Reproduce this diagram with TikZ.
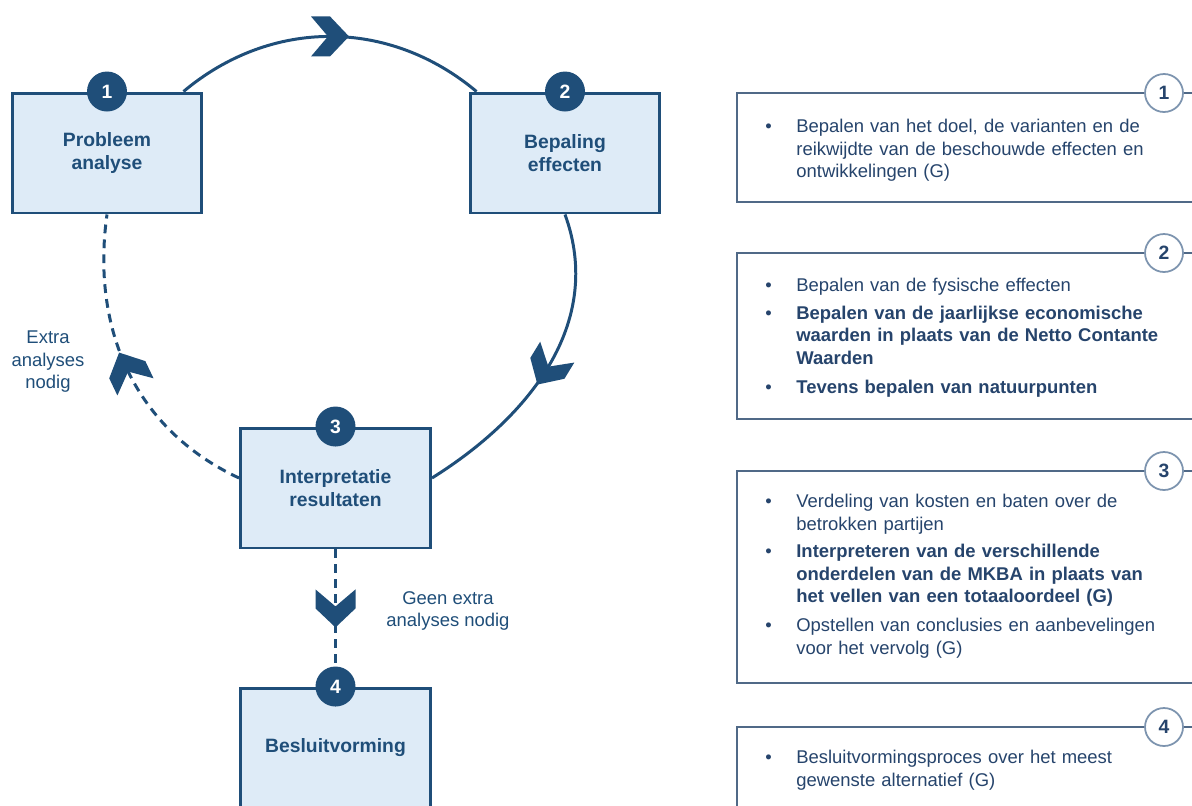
\documentclass[tikz,border=0pt]{standalone}
\usepackage{fontspec}
\setmainfont{Liberation Sans}
\usetikzlibrary{positioning}
\usetikzlibrary{decorations.markings}
\definecolor{darkblue}{RGB}{31,78,121}
\definecolor{lightblue}{RGB}{222,235,247}
\definecolor{paneltext}{RGB}{38,68,108}
\definecolor{panelline}{RGB}{80,105,135}
\definecolor{circline}{RGB}{125,148,175}
\newcommand{\PBul}{\makebox[0.62cm][l]{\textbullet}}
\newcommand{\PInd}{\hspace*{0.62cm}}
\tikzset{
    Box/.style = {rectangle, draw=darkblue, fill=lightblue, line width=1.7pt, minimum width=3.8cm, minimum height=2.4cm, align=center, text=darkblue, font=\bfseries\fontsize{11}{13}\selectfont}
}
\tikzset{
    Num/.style = {circle, fill=darkblue, text=white, minimum size=0.8cm, inner sep=0pt, font=\bfseries\fontsize{11}{13}\selectfont}
}
\tikzset{
    Flow/.style = {draw=darkblue, line width=1.7pt},
    DashFlow/.style = {Flow, dash pattern=on 5pt off 3.5pt},
    Chevron/.style = {postaction={decorate}, decoration={markings, mark=at position #1 with {\fill[darkblue] (19,0) -- (0,20) -- (-19,20) -- (-2,0) -- (-19,-20) -- (0,-20) -- cycle;}}}
}
\begin{document}
\begin{tikzpicture}[
    x=0.02cm, y=-0.02cm,
    font=\fontsize{10.5}{12.8}\selectfont
]
\tikzset{
    Panel/.style = {draw=panelline, line width=0.9pt},
    PNum/.style = {circle, draw=circline, fill=white, line width=1pt, minimum size=0.76cm, inner sep=0pt, text=paneltext, font=\bfseries\fontsize{11}{13}\selectfont},
    PText/.style = {anchor=north west, inner sep=0pt, text width=8.4cm, align=left, text=paneltext},
    Note/.style = {align=center, text=darkblue, inner sep=0pt}
}
\path[fill=white] (0,0) rectangle (1192,805);
\useasboundingbox (0,0) rectangle (1192,805);

% cycle
\node[Box] at (107,153) (b1) {Probleem\\analyse};
\node[Box] at (565,153) (b2) {Bepaling\\effecten};
\node[Box] at (335.5,488) (b3) {Interpretatie\\resultaten};
\node[Box] at (335.5,748) (b4) {Besluitvorming};
\path ([xshift=-0.4cm]b1.north east) edge [Flow, Chevron=0.5, out=40, in=140] ([xshift=0.16cm]b2.north west);
\path (b2.south) edge [Flow, Chevron=0.5, out=-70, in=32] ([yshift=0.2cm]b3.east);
\path ([yshift=0.2cm]b3.west) edge [DashFlow, Chevron=0.5, out=155, in=-98] (b1.south);
\path (b3.south) edge [DashFlow, Chevron=0.43] (b4.north);
\node[Num] at (b1.north) (n1) {1};
\node[Num] at (b2.north) (n2) {2};
\node[Num] at (b3.north) (n3) {3};
\node[Num] at (b4.north) (n4) {4};
\node[Note] at (48,362) (extra) {Extra\\analyses\\nodig};
\node[Note] at (448,611) (geen) {Geen extra\\analyses nodig};

% panels
\draw[Panel] (737,93) rectangle (1215,202);
\draw[Panel] (737,253) rectangle (1215,419);
\draw[Panel] (737,471) rectangle (1215,683);
\draw[Panel] (737,727) rectangle (1215,830);
\node[PNum] at (1164,93) (p1) {1};
\node[PNum] at (1164,253) (p2) {2};
\node[PNum] at (1164,471) (p3) {3};
\node[PNum] at (1164,727) (p4) {4};
\node[PText] at (765,119) (t1) {\PBul Bepalen van het doel, de varianten en de\\
    \PInd reikwijdte van de beschouwde effecten en\\
    \PInd ontwikkelingen (G)};
\node[PText] at (765,278) (t2) {\PBul Bepalen van de fysische effecten\\[3pt]
    \PBul\textbf{Bepalen van de jaarlijkse economische}\\
    \PInd\textbf{waarden in plaats van de Netto Contante}\\
    \PInd\textbf{Waarden}\\[3.5pt]
    \PBul\textbf{Tevens bepalen van natuurpunten}};
\node[PText] at (765,494) (t3) {\PBul Verdeling van kosten en baten over de\\
    \PInd betrokken partijen\\[3pt]
    \PBul\textbf{Interpreteren van de verschillende}\\
    \PInd\textbf{onderdelen van de MKBA in plaats van}\\
    \PInd\textbf{het vellen van een totaaloordeel (G)}\\[3.5pt]
    \PBul Opstellen van conclusies en aanbevelingen\\
    \PInd voor het vervolg (G)};
\node[PText] at (765,750) (t4) {\PBul Besluitvormingsproces over het meest\\
    \PInd gewenste alternatief (G)};
\end{tikzpicture}
\end{document}
